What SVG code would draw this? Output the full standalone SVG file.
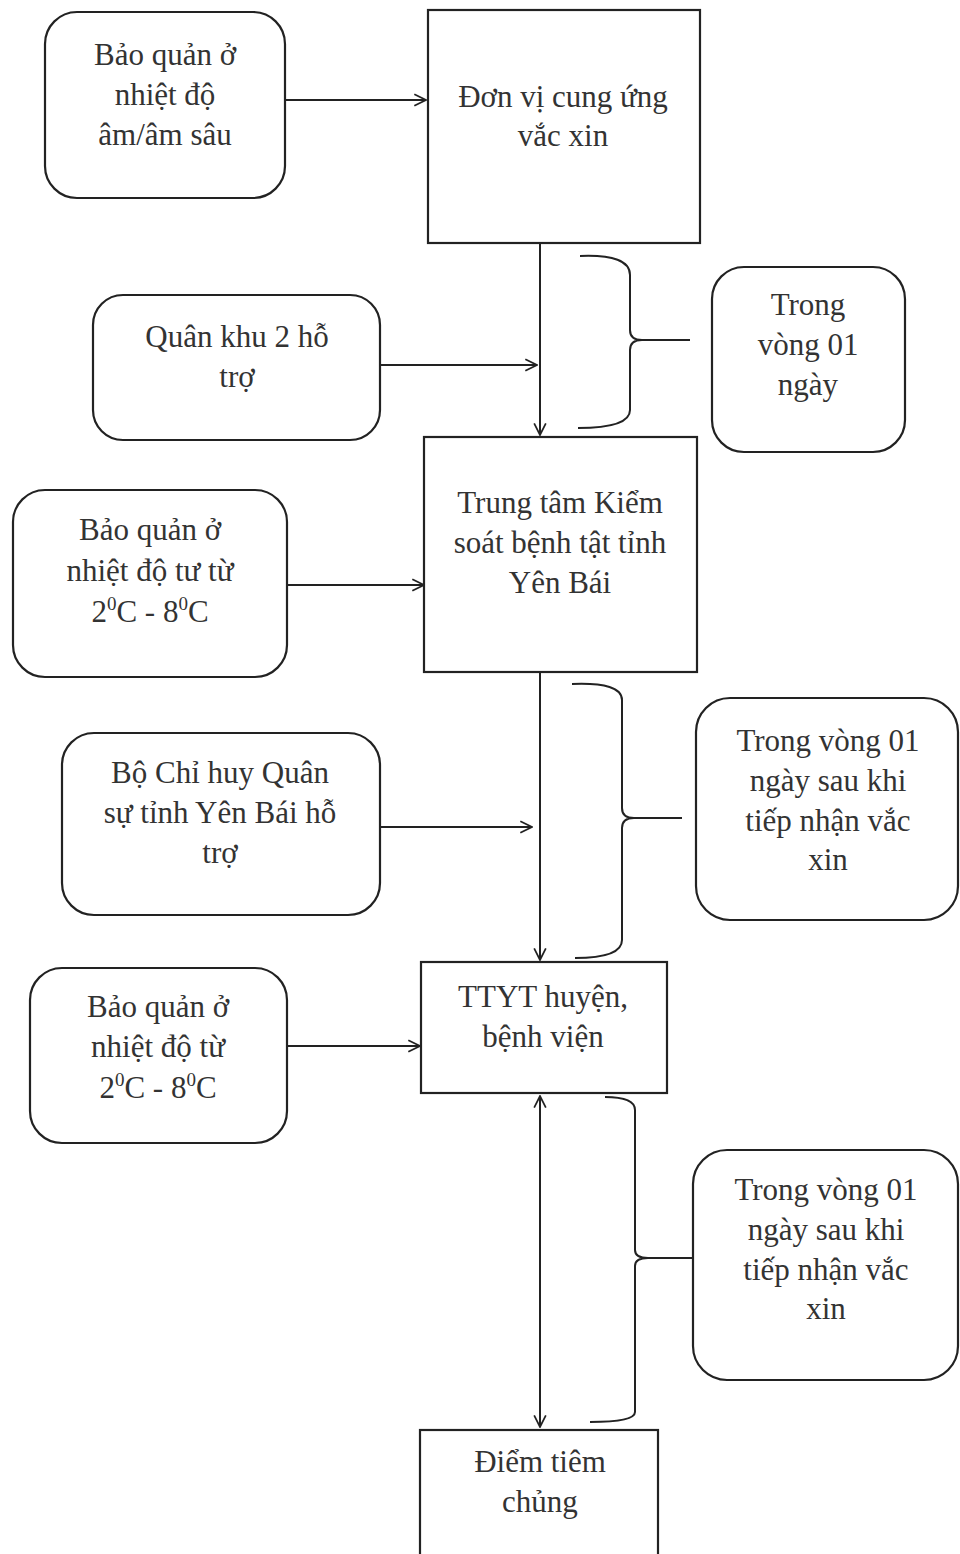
<svg xmlns="http://www.w3.org/2000/svg" width="960" height="1554" viewBox="0 0 960 1554">
<defs>
<marker id="arr" viewBox="0 0 12 12" refX="11" refY="6" markerWidth="14" markerHeight="14" markerUnits="userSpaceOnUse" orient="auto-start-reverse">
<path d="M1,1 L11,6 L1,11" fill="none" stroke="#222" stroke-width="1.5"/>
</marker>
</defs>
<style>
.box{fill:#fff;stroke:#222;stroke-width:2.2}
.t{font-family:"Liberation Serif","Times New Roman",serif;font-size:31px;fill:#333;text-anchor:middle}
.c{fill:none;stroke:#222;stroke-width:2}
.sup{font-size:19px}
</style>
<rect width="960" height="1554" fill="#fff"/>
<g id="connectors">
<line class="c" x1="285" y1="100" x2="426" y2="100" marker-end="url(#arr)"/>
<line class="c" x1="540" y1="243" x2="540" y2="435" marker-end="url(#arr)"/>
<line class="c" x1="380" y1="365" x2="537" y2="365" marker-end="url(#arr)"/>
<path class="c" d="M580,256 Q630,254 630,275 L630,330 Q630,340 642,340 L690,340 M642,340 Q630,340 630,350 L630,410 Q630,428 578,428"/>
<line class="c" x1="287" y1="585" x2="424" y2="585" marker-end="url(#arr)"/>
<line class="c" x1="540" y1="672" x2="540" y2="960" marker-end="url(#arr)"/>
<line class="c" x1="380" y1="827" x2="532" y2="827" marker-end="url(#arr)"/>
<path class="c" d="M572,684 Q622,682 622,700 L622,808 Q622,818 634,818 L682,818 M634,818 Q622,818 622,828 L622,940 Q622,958 575,958"/>
<line class="c" x1="287" y1="1046" x2="420" y2="1046" marker-end="url(#arr)"/>
<line class="c" x1="540" y1="1096" x2="540" y2="1427" marker-start="url(#arr)" marker-end="url(#arr)"/>
<path class="c" d="M605,1097 Q635,1097 635,1110 L635,1250 Q635,1258 648,1258 L695,1258 M648,1258 Q635,1258 635,1266 L635,1412 Q635,1422 590,1422"/>
</g>
<g id="n1">
<rect class="box" x="45" y="12" width="240" height="186" rx="32"/>
<text class="t" x="165" y="65">Bảo quản ở</text>
<text class="t" x="165" y="105">nhiệt độ</text>
<text class="t" x="165" y="145">âm/âm sâu</text>
</g>
<g id="n2">
<rect class="box" x="428" y="10" width="272" height="233"/>
<text class="t" x="563" y="107">Đơn vị cung ứng</text>
<text class="t" x="563" y="146">vắc xin</text>
</g>
<g id="n3">
<rect class="box" x="93" y="295" width="287" height="145" rx="30"/>
<text class="t" x="237" y="347">Quân khu 2 hỗ</text>
<text class="t" x="237" y="387">trợ</text>
</g>
<g id="n4">
<rect class="box" x="712" y="267" width="193" height="185" rx="32"/>
<text class="t" x="808" y="315">Trong</text>
<text class="t" x="808" y="355">vòng 01</text>
<text class="t" x="808" y="395">ngày</text>
</g>
<g id="n5">
<rect class="box" x="424" y="437" width="273" height="235"/>
<text class="t" x="560" y="513">Trung tâm Kiểm</text>
<text class="t" x="560" y="553">soát bệnh tật tỉnh</text>
<text class="t" x="560" y="593">Yên Bái</text>
</g>
<g id="n6">
<rect class="box" x="13" y="490" width="274" height="187" rx="32"/>
<text class="t" x="150" y="540">Bảo quản ở</text>
<text class="t" x="150" y="581">nhiệt độ tư từ</text>
<text class="t" x="150" y="622">2<tspan class="sup" dy="-12">0</tspan><tspan dy="12">C - 8</tspan><tspan class="sup" dy="-12">0</tspan><tspan dy="12">C</tspan></text>
</g>
<g id="n7">
<rect class="box" x="62" y="733" width="318" height="182" rx="32"/>
<text class="t" x="220" y="783">Bộ Chỉ huy Quân</text>
<text class="t" x="220" y="823">sự tỉnh Yên Bái hỗ</text>
<text class="t" x="220" y="863">trợ</text>
</g>
<g id="n8">
<rect class="box" x="696" y="698" width="262" height="222" rx="34"/>
<text class="t" x="828" y="751">Trong vòng 01</text>
<text class="t" x="828" y="791">ngày sau khi</text>
<text class="t" x="828" y="831">tiếp nhận vắc</text>
<text class="t" x="828" y="870">xin</text>
</g>
<g id="n9">
<rect class="box" x="421" y="962" width="246" height="131"/>
<text class="t" x="543" y="1007">TTYT huyện,</text>
<text class="t" x="543" y="1047">bệnh viện</text>
</g>
<g id="n10">
<rect class="box" x="30" y="968" width="257" height="175" rx="32"/>
<text class="t" x="158" y="1017">Bảo quản ở</text>
<text class="t" x="158" y="1057">nhiệt độ từ</text>
<text class="t" x="158" y="1098">2<tspan class="sup" dy="-12">0</tspan><tspan dy="12">C - 8</tspan><tspan class="sup" dy="-12">0</tspan><tspan dy="12">C</tspan></text>
</g>
<g id="n11">
<rect class="box" x="693" y="1150" width="265" height="230" rx="34"/>
<text class="t" x="826" y="1200">Trong vòng 01</text>
<text class="t" x="826" y="1240">ngày sau khi</text>
<text class="t" x="826" y="1280">tiếp nhận vắc</text>
<text class="t" x="826" y="1319">xin</text>
</g>
<g id="n12">
<rect class="box" x="420" y="1430" width="238" height="135"/>
<text class="t" x="540" y="1472">Điểm tiêm</text>
<text class="t" x="540" y="1512">chủng</text>
</g>
</svg>
